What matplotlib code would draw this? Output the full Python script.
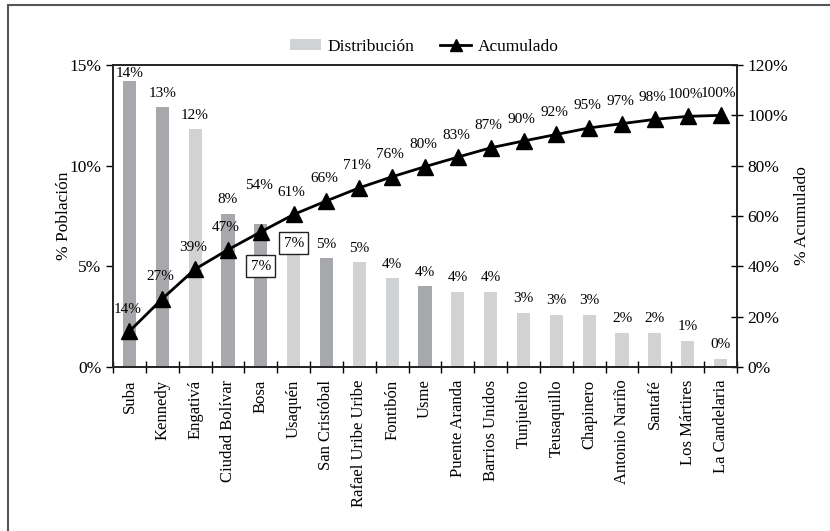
import matplotlib.pyplot as plt
from matplotlib.patches import Rectangle, Patch
from matplotlib.lines import Line2D
from matplotlib.ticker import FuncFormatter
import numpy as np

plt.rcParams['font.family'] = ['Liberation Serif', 'DejaVu Serif']

localidades = ['Suba', 'Kennedy', 'Engativá', 'Ciudad Bolívar', 'Bosa', 'Usaquén',
               'San Cristóbal', 'Rafael Uribe Uribe', 'Fontibón', 'Usme',
               'Puente Aranda', 'Barrios Unidos', 'Tunjuelito', 'Teusaquillo',
               'Chapinero', 'Antonio Nariño', 'Santafé', 'Los Mártires', 'La Candelaria']
distribucion = [14.2, 12.9, 11.8, 7.6, 7.1, 6.6, 5.4, 5.2, 4.4, 4.0,
                3.75, 3.75, 2.7, 2.6, 2.6, 1.7, 1.7, 1.3, 0.4]
acumulado = [14.2, 27.1, 38.9, 46.6, 53.7, 60.6, 66.0, 71.2, 75.6, 79.6,
             83.4, 87.1, 89.8, 92.4, 95.0, 96.7, 98.4, 99.6, 100.0]
# localidades drawn in the darker grey
oscuras = {'Suba', 'Kennedy', 'Ciudad Bolívar', 'Bosa', 'San Cristóbal', 'Usme'}

gris_claro = '#d1d2d4'
gris_oscuro = '#a7a8ab'

fig = plt.figure(figsize=(8.3, 5.31), dpi=100)
ax = fig.add_axes([113 / 830, 1 - 367 / 531, 624 / 830, 302 / 531])
ax2 = ax.twinx()

x = np.arange(len(localidades))
colores = [gris_oscuro if n in oscuras else gris_claro for n in localidades]
ax.bar(x, distribucion, width=0.4, color=colores, zorder=2)
ax.set_xlim(-0.5, len(localidades) - 0.5)
ax.set_ylim(0, 15)
ax.set_yticks([0, 5, 10, 15])
ax.yaxis.set_major_formatter(FuncFormatter(lambda v, p: f'{v:.0f}%'))
ax.set_xticks(x)
ax.set_xticklabels(localidades, rotation=90, fontsize=12)
ax.set_xticks(np.arange(len(localidades) + 1) - 0.5, minor=True)
ax.tick_params(axis='x', which='major', length=0, pad=9)
ax.tick_params(axis='x', which='minor', direction='inout', length=8, width=1)
ax.tick_params(axis='y', direction='out', length=5, width=1, labelsize=12.5)
ax.set_ylabel('% Población', fontsize=12.5, labelpad=-2)

ax2.plot(x, acumulado, color='black', lw=2, marker='^', ms=12, zorder=3)
ax2.set_ylim(0, 120)
ax2.set_yticks(range(0, 121, 20))
ax2.yaxis.set_major_formatter(FuncFormatter(lambda v, p: f'{v:.0f}%'))
ax2.tick_params(axis='y', direction='inout', length=8, width=1, labelsize=12.5)
ax2.set_ylabel('% Acumulado', fontsize=12.5, labelpad=4)

for a in (ax, ax2):
    for s in a.spines.values():
        s.set_linewidth(1.2)
        s.set_color('#222222')

# data labels
caja = dict(boxstyle='square,pad=0.3', fc='white', ec='#222222', lw=1)
for i, v in enumerate(distribucion):
    txt = f'{v:.0f}%'
    if localidades[i] == 'Bosa':
        ax.annotate(txt, (i, v), xytext=(0, -42), textcoords='offset pixels',
                    ha='center', va='center', fontsize=11, zorder=5, bbox=caja)
    elif localidades[i] == 'Usaquén':
        ax.annotate(txt, (i, v), xytext=(0, -9), textcoords='offset pixels',
                    ha='center', va='center', fontsize=11, zorder=5, bbox=caja)
    else:
        dy = 8 if i == 0 else 14
        ax.annotate(txt, (i, v), xytext=(0, dy), textcoords='offset pixels',
                    ha='center', va='center', fontsize=11, zorder=5)

for i, v in enumerate(acumulado):
    dy = 46 if localidades[i] == 'Bosa' else 22
    ax2.annotate(f'{v:.0f}%', (i, v), xytext=(-2, dy), textcoords='offset pixels',
                 ha='center', va='center', fontsize=11, zorder=5)

ax.set_zorder(ax2.get_zorder() - 1)
ax.patch.set_visible(False)

# legend
handles = [Patch(facecolor=gris_claro, edgecolor='none'),
           Line2D([], [], color='black', lw=2, marker='^', ms=8)]
fig.legend(handles, ['Distribución', 'Acumulado'], loc='center',
           bbox_to_anchor=(424 / 830, 1 - 47 / 531), ncol=2, frameon=False,
           fontsize=12.5, handlelength=1.8, handleheight=0.6, columnspacing=1.5,
           handletextpad=0.35)

# outer frame
fig.patches.append(Rectangle((8 / 830, -0.2), 1.2, 1.2 - 5 / 531,
                             transform=fig.transFigure, fill=False,
                             ec='#555555', lw=1.5))

fig.savefig('out.png', dpi=100)
